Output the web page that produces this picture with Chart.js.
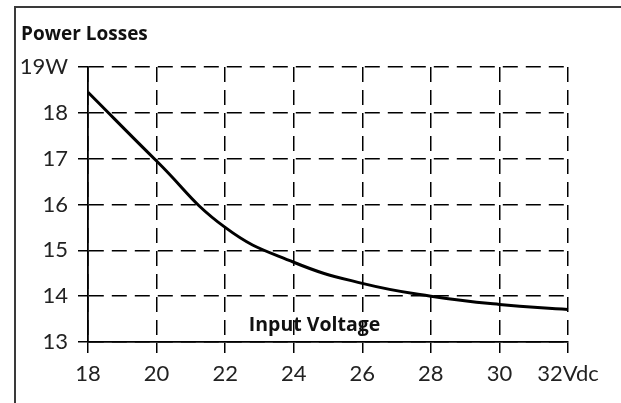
<!DOCTYPE html>
<html>
<head>
<meta charset="utf-8">
<script src="https://cdn.jsdelivr.net/npm/chart.js@4"></script>
<style>
  body { margin: 0; background: #fff; }
  #wrap { width: 621px; height: 403px; }
</style>
</head>
<body>
<div id="wrap"><canvas id="chart" width="621" height="403"></canvas></div>
<script>
"use strict";

const voltage = [18, 20, 22, 24, 26, 28, 30, 32];
const losses = [18.45, 16.95, 15.5, 14.74, 14.28, 14.0, 13.82, 13.71];
const xTickLabels = ["18", "20", "22", "24", "26", "28", "30", "32Vdc"];
const yTickLabels = ["13", "14", "15", "16", "17", "18", "19W"];
const chartTitle = "Power Losses";
const axisLabel = "Input Voltage";

const fontFamily = "Lato, 'DejaVu Sans', sans-serif";
const boldFamily = "'Open Sans', Lato, sans-serif";
const points = voltage.map((v, i) => ({ x: v, y: losses[i] }));

// frame and the two bold labels
const extras = {
    id: "extras",
    beforeDraw(chart) {
        const ctx = chart.ctx;
        ctx.save();
        ctx.strokeStyle = "#3a3a3a";
        ctx.lineWidth = 2;
        ctx.beginPath();
        ctx.moveTo(15, 403);
        ctx.lineTo(15, 7);
        ctx.lineTo(621, 7);
        ctx.stroke();
        ctx.restore();
    },
    afterDraw(chart) {
        const ctx = chart.ctx;
        const area = chart.chartArea;
        ctx.save();
        ctx.fillStyle = "#111";
        ctx.textBaseline = "alphabetic";
        ctx.textAlign = "left";
        ctx.font = "bold 19px " + boldFamily;
        ctx.fillText(chartTitle, 21, 40);
        ctx.textAlign = "center";
        ctx.font = "bold 19.5px " + boldFamily;
        ctx.fillText(axisLabel, area.left + (area.right - area.left) * 0.472, area.bottom - 11);
        ctx.restore();
    }
};

new Chart(document.getElementById("chart"), {
    type: "line",
    data: {
        datasets: [
            {
                data: points,
                borderColor: "#000",
                borderWidth: 3,
                pointRadius: 0,
                tension: 0.45,
                clip: 6
            }
        ]
    },
    options: {
        responsive: false,
        animation: false,
        layout: { padding: { left: 0, top: 67, right: 53, bottom: 0 } },
        plugins: {
            legend: { display: false },
            tooltip: { enabled: false }
        },
        scales: {
            x: {
                type: "linear",
                min: 18,
                max: 32,
                afterFit: (scale) => { scale.height = 61; },
                ticks: {
                    stepSize: 2,
                    color: "#222",
                    padding: 8,
                    font: { family: fontFamily, size: 22 },
                    callback: (value, index) => xTickLabels[index]
                },
                grid: { color: "#000", lineWidth: 1.5, tickLength: 11, tickColor: "#000", tickWidth: 1.5 },
                border: { display: true, color: "#000", width: 1.8, dash: [15, 8] }
            },
            y: {
                min: 13,
                max: 19,
                afterFit: (scale) => { scale.width = 88; },
                ticks: {
                    stepSize: 1,
                    color: "#222",
                    padding: 10,
                    font: { family: fontFamily, size: 22 },
                    callback: (value, index) => yTickLabels[index]
                },
                grid: { color: "#000", lineWidth: 1.5, tickLength: 10, tickColor: "#000", tickWidth: 1.5 },
                border: { display: true, color: "#000", width: 1.8, dash: [15, 8] }
            }
        }
    },
    plugins: [extras]
});
</script>
</body>
</html>
